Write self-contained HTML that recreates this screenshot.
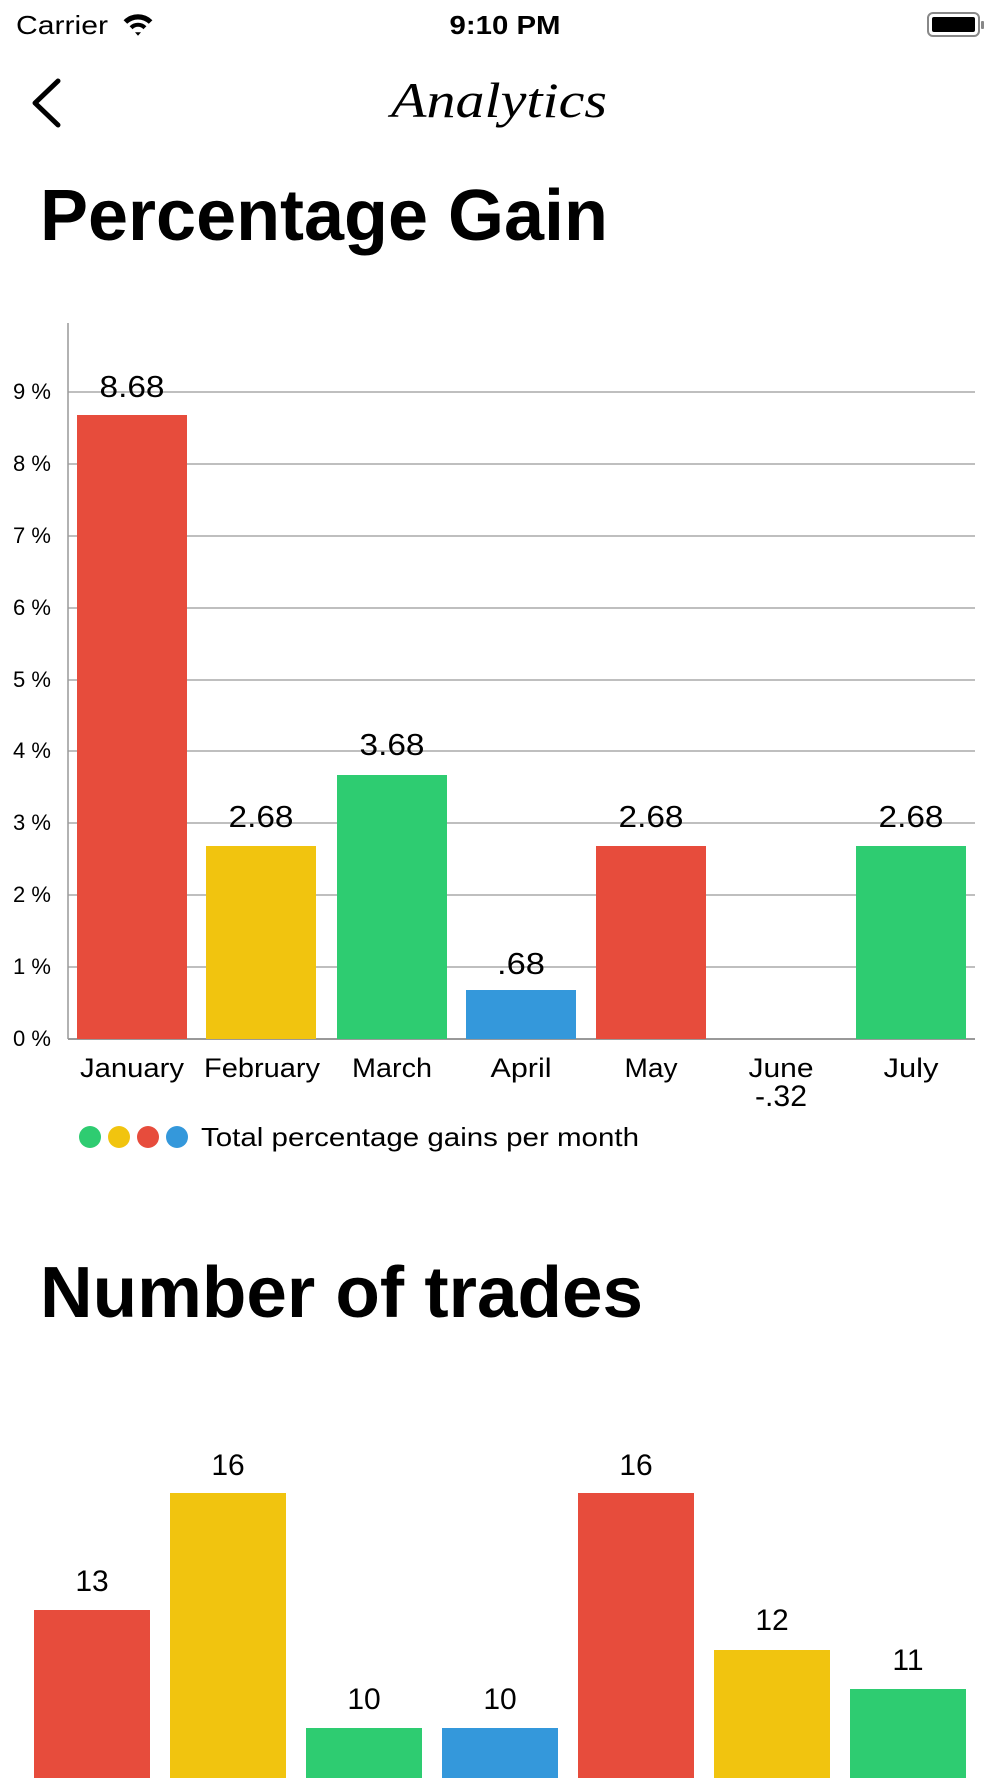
<!DOCTYPE html>
<html><head><meta charset="utf-8"><style>
html,body{margin:0;padding:0;background:#fff;width:1000px;height:1778px;overflow:hidden}
svg{display:block}
text{font-family:"Liberation Sans",sans-serif;fill:#000}
</style></head><body>
<svg width="1000" height="1778" viewBox="0 0 1000 1778">
<!-- status bar -->
<text x="16" y="34" font-size="26" textLength="92" lengthAdjust="spacingAndGlyphs">Carrier</text>
<g transform="translate(138,25) scale(1.2)" fill="#000">
<path d="M-12,-4 A17,17 0 0 1 12,-4 L9,-1 A13,13 0 0 0 -9,-1 Z"/>
<path d="M-7,1 A10,10 0 0 1 7,1 L4.5,3.5 A6,6 0 0 0 -4.5,3.5 Z"/>
<path d="M-2.5,6 L2.5,6 L0,9 Z"/>
</g>
<text x="505" y="34" font-size="26" font-weight="bold" text-anchor="middle" textLength="111" lengthAdjust="spacingAndGlyphs">9:10 PM</text>
<rect x="928" y="13" width="51" height="23" rx="5" fill="none" stroke="#888" stroke-width="2"/>
<rect x="932" y="17" width="43" height="15" rx="2" fill="#000"/>
<rect x="981" y="21" width="3" height="8" rx="1" fill="#888"/>
<!-- nav -->
<path d="M58,81 L35,103 L58,125" fill="none" stroke="#000" stroke-width="5" stroke-linecap="round" stroke-linejoin="round"/>
<text x="499" y="117" font-size="50" font-style="italic" text-anchor="middle" textLength="216" lengthAdjust="spacingAndGlyphs" style="font-family:'Liberation Serif',serif">Analytics</text>
<!-- title -->
<text x="40" y="240" font-size="72" font-weight="bold" textLength="568" lengthAdjust="spacingAndGlyphs">Percentage Gain</text>
<!-- chart 1 -->
<g stroke="#aaa" stroke-width="1.5">
<line x1="68" y1="392" x2="975" y2="392"/>
<line x1="68" y1="464" x2="975" y2="464"/>
<line x1="68" y1="536" x2="975" y2="536"/>
<line x1="68" y1="608" x2="975" y2="608"/>
<line x1="68" y1="680" x2="975" y2="680"/>
<line x1="68" y1="751" x2="975" y2="751"/>
<line x1="68" y1="823" x2="975" y2="823"/>
<line x1="68" y1="895" x2="975" y2="895"/>
<line x1="68" y1="967" x2="975" y2="967"/>
</g>
<line x1="68" y1="323" x2="68" y2="1039" stroke="#999" stroke-width="1.5"/>
<line x1="68" y1="1039" x2="975" y2="1039" stroke="#999" stroke-width="2"/>
<g font-size="22">
<text x="13" y="399">9 %</text><text x="13" y="471">8 %</text><text x="13" y="543">7 %</text>
<text x="13" y="615">6 %</text><text x="13" y="687">5 %</text><text x="13" y="758">4 %</text>
<text x="13" y="830">3 %</text><text x="13" y="902">2 %</text><text x="13" y="974">1 %</text>
<text x="13" y="1046">0 %</text>
</g>
<rect x="77" y="415" width="110" height="624" fill="#E74C3C"/>
<rect x="206" y="846" width="110" height="193" fill="#F1C40F"/>
<rect x="337" y="775" width="110" height="264" fill="#2ECC71"/>
<rect x="466" y="990" width="110" height="49" fill="#3498DB"/>
<rect x="596" y="846" width="110" height="193" fill="#E74C3C"/>
<rect x="856" y="846" width="110" height="193" fill="#2ECC71"/>
<g font-size="31" text-anchor="middle">
<text x="132" y="397" textLength="65" lengthAdjust="spacingAndGlyphs">8.68</text>
<text x="261" y="827" textLength="65" lengthAdjust="spacingAndGlyphs">2.68</text>
<text x="392" y="755" textLength="65" lengthAdjust="spacingAndGlyphs">3.68</text>
<text x="521" y="974" textLength="48" lengthAdjust="spacingAndGlyphs">.68</text>
<text x="651" y="827" textLength="65" lengthAdjust="spacingAndGlyphs">2.68</text>
<text x="911" y="827" textLength="65" lengthAdjust="spacingAndGlyphs">2.68</text>
</g>
<g font-size="27" text-anchor="middle">
<text x="132" y="1077" textLength="104" lengthAdjust="spacingAndGlyphs">January</text>
<text x="262" y="1077" textLength="116" lengthAdjust="spacingAndGlyphs">February</text>
<text x="392" y="1077" textLength="80" lengthAdjust="spacingAndGlyphs">March</text>
<text x="521" y="1077" textLength="61" lengthAdjust="spacingAndGlyphs">April</text>
<text x="651" y="1077" textLength="53" lengthAdjust="spacingAndGlyphs">May</text>
<text x="781" y="1077" textLength="65" lengthAdjust="spacingAndGlyphs">June</text>
<text x="781" y="1106" font-size="30" textLength="52" lengthAdjust="spacingAndGlyphs">-.32</text>
<text x="911" y="1077" textLength="55" lengthAdjust="spacingAndGlyphs">July</text>
</g>
<circle cx="90" cy="1137" r="11" fill="#2ECC71"/>
<circle cx="119" cy="1137" r="11" fill="#F1C40F"/>
<circle cx="148" cy="1137" r="11" fill="#E74C3C"/>
<circle cx="177" cy="1137" r="11" fill="#3498DB"/>
<text x="201" y="1146" font-size="26" textLength="438" lengthAdjust="spacingAndGlyphs">Total percentage gains per month</text>
<!-- title 2 -->
<text x="40" y="1317" font-size="72" font-weight="bold" textLength="603" lengthAdjust="spacingAndGlyphs">Number of trades</text>
<!-- chart 2 -->
<rect x="34" y="1610" width="116" height="170" fill="#E74C3C"/>
<rect x="170" y="1493" width="116" height="290" fill="#F1C40F"/>
<rect x="306" y="1728" width="116" height="55" fill="#2ECC71"/>
<rect x="442" y="1728" width="116" height="55" fill="#3498DB"/>
<rect x="578" y="1493" width="116" height="290" fill="#E74C3C"/>
<rect x="714" y="1650" width="116" height="130" fill="#F1C40F"/>
<rect x="850" y="1689" width="116" height="90" fill="#2ECC71"/>
<g font-size="30" text-anchor="middle">
<text x="92" y="1591">13</text>
<text x="228" y="1475">16</text>
<text x="364" y="1709">10</text>
<text x="500" y="1709">10</text>
<text x="636" y="1475">16</text>
<text x="772" y="1630">12</text>
<text x="908" y="1670">11</text>
</g>
</svg>
</body></html>
